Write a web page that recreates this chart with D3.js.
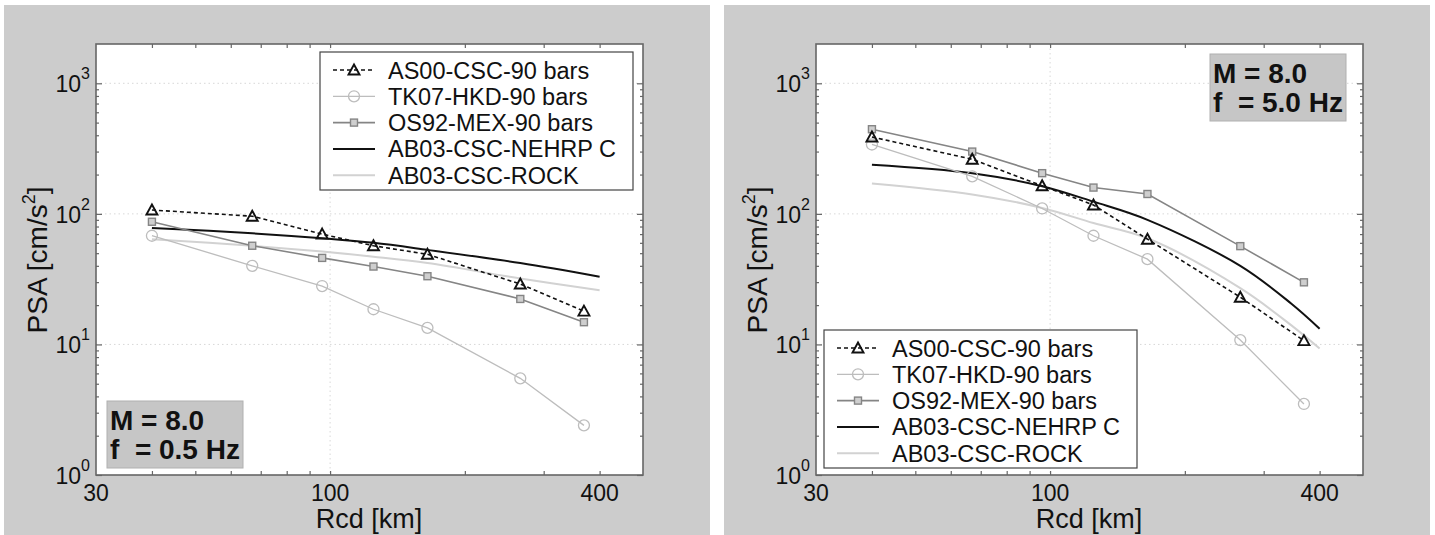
<!DOCTYPE html>
<html>
<head>
<meta charset="utf-8">
<title>PSA vs Rcd</title>
<script src="https://d3js.org/d3.v7.min.js"></script>
<style>
  body { margin: 0; background: #fff; }
  svg text { font-family: Arial, "Liberation Sans", sans-serif; fill: #111; }
</style>
</head>
<body>
<div id="chart"></div>
<script>
"use strict"

// distancias das estacoes (km)
var rcd = [40, 67, 96, 125, 165, 266, 369];
// distancias das curvas AB03 (km)
var rcdModelo05 = [40, 67, 96, 125, 165, 266, 400];
var rcdModelo5 = [40, 67, 96, 125, 165, 266, 346, 400];

// f = 0.5 Hz
var as00_05 = [107, 96, 70, 57, 49, 29, 18];
var tk07_05 = [68, 40, 28, 18.6, 13.4, 5.5, 2.4];
var os92_05 = [87, 57, 46, 39.5, 33.3, 22.3, 14.8];
var ab03C_05 = [78, 71, 65, 60, 53, 42, 33];
var ab03Rock_05 = [64, 57, 51.5, 47, 42, 32, 26];

// f = 5.0 Hz
var as00_5 = [388, 262, 164, 117, 64, 23, 10.7];
var tk07_5 = [340, 194, 110, 68, 45, 10.8, 3.5];
var os92_5 = [445, 300, 205, 159, 142, 56.6, 29.9];
var ab03C_5 = [238, 205, 163, 124, 90, 40, 20.5, 13.2];
var ab03Rock_5 = [171, 141, 111, 85, 65, 27, 14, 9.3];

var nomes = ["AS00-CSC-90 bars", "TK07-HKD-90 bars", "OS92-MEX-90 bars", "AB03-CSC-NEHRP C", "AB03-CSC-ROCK"];
var xRotulos = [30, 100, 400];
var yDecadas = [1, 10, 100, 1000];
var xMarcas = [40, 50, 60, 70, 80, 90, 100, 200, 300, 400];

var svg = d3.select('#chart').append('svg')
  .attr('width', 1435).attr('height', 535);

// estilos de cada serie
var estilos = [
  {cor: '#111', largura: 1.6, traco: '4,3', marca: 'tri'},
  {cor: '#bdbdbd', largura: 1.3, traco: null, marca: 'circ'},
  {cor: '#858585', largura: 1.6, traco: null, marca: 'quad'},
  {cor: '#111', largura: 2, traco: null, marca: null},
  {cor: '#d2d2d2', largura: 2, traco: null, marca: null}
];

function marcador(g, tipo, cx, cy, cor) {
  if (tipo === 'circ') {
    g.append('circle').attr('cx', cx).attr('cy', cy).attr('r', 5.5)
      .attr('fill', 'none').attr('stroke', cor).attr('stroke-width', 1.3);
  } else if (tipo === 'quad') {
    g.append('rect').attr('x', cx - 3.5).attr('y', cy - 3.5).attr('width', 7).attr('height', 7)
      .attr('fill', '#cfcfcf').attr('stroke', cor).attr('stroke-width', 1.4);
  } else if (tipo === 'tri') {
    g.append('path').attr('transform', 'translate(' + cx + ',' + cy + ')')
      .attr('d', 'M0,-5.5L5.5,4.5L-5.5,4.5Z')
      .attr('fill', 'none').attr('stroke', cor).attr('stroke-width', 1.9);
  }
}

function desenhaPainel(ox, series, legenda, anotacao) {
  var g = svg.append('g').attr('transform', 'translate(' + ox + ',0)');
  g.append('rect').attr('x', 4).attr('y', 5).attr('width', 706).attr('height', 530).attr('fill', '#cccccc');

  var x = d3.scaleLog().domain([30, 500]).range([96, 643]);
  var y = d3.scaleLog().domain([1, 2000]).range([475, 44]);

  g.append('rect').attr('x', 96).attr('y', 44).attr('width', 547).attr('height', 431).attr('fill', '#fff');

  // grade pontilhada
  g.selectAll('.gy').data([10, 100, 1000]).enter().append('line')
    .attr('x1', 96).attr('x2', 643).attr('y1', d => y(d)).attr('y2', d => y(d))
    .attr('stroke', '#d8d8d8').attr('stroke-dasharray', '1.5,3');
  g.append('line').attr('x1', x(100)).attr('x2', x(100)).attr('y1', 44).attr('y2', 475)
    .attr('stroke', '#d8d8d8').attr('stroke-dasharray', '1.5,3');

  // eixos com marcas para dentro
  var yMenores = [];
  yDecadas.forEach(function (d) { for (var k = 2; k <= 9; k++) if (d * k < 2000) yMenores.push(d * k); });
  g.append('g').attr('transform', 'translate(0,475)')
    .call(d3.axisBottom(x).tickValues(xMarcas).tickSize(-4).tickFormat(''));
  g.append('g').attr('transform', 'translate(0,44)')
    .call(d3.axisTop(x).tickValues(xMarcas).tickSize(-4).tickFormat(''));
  g.append('g').attr('transform', 'translate(96,0)').call(d3.axisLeft(y).tickValues(yDecadas).tickSize(-6).tickFormat(''));
  g.append('g').attr('transform', 'translate(96,0)').call(d3.axisLeft(y).tickValues(yMenores).tickSize(-3).tickFormat(''));
  g.append('g').attr('transform', 'translate(643,0)').call(d3.axisRight(y).tickValues(yDecadas).tickSize(-6).tickFormat(''));
  g.append('g').attr('transform', 'translate(643,0)').call(d3.axisRight(y).tickValues(yMenores).tickSize(-3).tickFormat(''));
  g.selectAll('.domain').remove();
  g.selectAll('.tick line').attr('stroke', '#666').attr('stroke-width', 1.2);

  // moldura
  g.append('rect').attr('x', 96).attr('y', 44).attr('width', 547).attr('height', 431)
    .attr('fill', 'none').attr('stroke', '#666').attr('stroke-width', 1.6);

  // rotulos
  g.selectAll('.rx').data(xRotulos).enter().append('text')
    .attr('x', d => x(d)).attr('y', 501).attr('text-anchor', 'middle')
    .style('font-size', '23px').text(d => d);
  yDecadas.forEach(function (d, i) {
    g.append('text').attr('x', 81).attr('y', y(d) + 9).attr('text-anchor', 'end')
      .style('font-size', '23px').text('10');
    g.append('text').attr('x', 81).attr('y', y(d) - 4)
      .style('font-size', '16px').text(i);
  });
  g.append('text').attr('x', 369).attr('y', 528).attr('text-anchor', 'middle')
    .style('font-size', '27px').text('Rcd [km]');
  var ty = g.append('text').attr('transform', 'translate(47,260) rotate(-90)')
    .attr('text-anchor', 'middle').style('font-size', '28px');
  ty.append('tspan').text('PSA [cm/s');
  ty.append('tspan').attr('dy', -12).style('font-size', '18px').text('2');
  ty.append('tspan').attr('dy', 12).text(']');

  // curvas
  var linha = d3.line().x(d => x(d[0])).y(d => y(d[1]));
  var linhaSuave = d3.line().x(d => x(d[0])).y(d => y(d[1])).curve(d3.curveCatmullRom.alpha(0.5));
  var ordem = [4, 3, 2, 1, 0];
  ordem.forEach(function (i) {
    var s = series[i], e = estilos[i];
    var pts = d3.zip(s.rcd, s.v);
    g.append('path').attr('d', (e.marca ? linha : linhaSuave)(pts))
      .attr('fill', 'none').attr('stroke', e.cor).attr('stroke-width', e.largura)
      .attr('stroke-dasharray', e.traco);
    if (e.marca) pts.forEach(p => marcador(g, e.marca, x(p[0]), y(p[1]), e.cor));
  });

  // legenda
  var lg = g.append('g').attr('transform', 'translate(' + legenda[0] + ',' + legenda[1] + ')');
  lg.append('rect').attr('width', 313).attr('height', 138).attr('fill', '#fff')
    .attr('stroke', '#444').attr('stroke-width', 1.2);
  nomes.forEach(function (n, i) {
    var cy = 18 + i * 26.3, e = estilos[i];
    lg.append('line').attr('x1', 13).attr('x2', 55).attr('y1', cy).attr('y2', cy)
      .attr('stroke', e.cor).attr('stroke-width', e.largura).attr('stroke-dasharray', e.traco);
    if (e.marca) marcador(lg, e.marca, 34, cy, e.cor);
    lg.append('text').attr('x', 68).attr('y', cy + 8.5).style('font-size', '23.5px').text(n);
  });

  // anotacao
  var an = g.append('g').attr('transform', 'translate(' + anotacao.pos[0] + ',' + anotacao.pos[1] + ')');
  an.append('rect').attr('width', 136).attr('height', 67).attr('fill', '#c6c6c6')
    .attr('stroke', '#b0b0b0');
  an.append('text').attr('x', 3).attr('y', 29).style('font-size', '28px').style('font-weight', 'bold')
    .text('M = 8.0');
  an.append('text').attr('x', 3).attr('y', 58).style('font-size', '28px').style('font-weight', 'bold')
    .style('white-space', 'pre').text(anotacao.f);
}

desenhaPainel(0, [
  {rcd: rcd, v: as00_05}, {rcd: rcd, v: tk07_05}, {rcd: rcd, v: os92_05},
  {rcd: rcdModelo05, v: ab03C_05}, {rcd: rcdModelo05, v: ab03Rock_05}
], [320, 52], {pos: [107, 401], f: 'f  = 0.5 Hz'});

desenhaPainel(720, [
  {rcd: rcd, v: as00_5}, {rcd: rcd, v: tk07_5}, {rcd: rcd, v: os92_5},
  {rcd: rcdModelo5, v: ab03C_5}, {rcd: rcdModelo5, v: ab03Rock_5}
], [104, 330], {pos: [490, 54], f: 'f  = 5.0 Hz'});
</script>
</body>
</html>
